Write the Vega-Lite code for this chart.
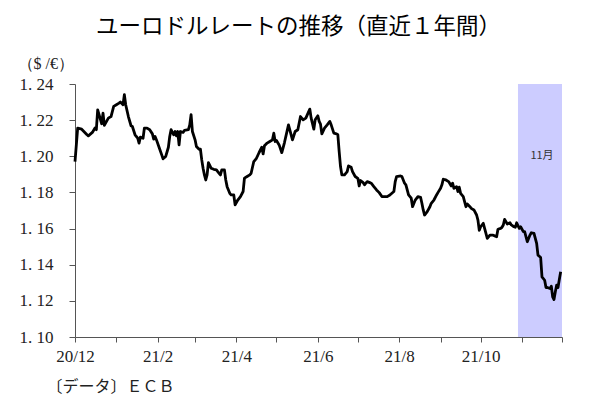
{
  "$schema": "https://vega.github.io/schema/vega-lite/v6.json",
  "width": 487,
  "height": 253,
  "autosize": {"type": "none"},
  "padding": {"left": 75, "top": 84, "right": 38, "bottom": 65},
  "background": "white",
  "title": {"text": "ユーロドルレートの推移（直近１年間）", "font": "Noto Sans CJK JP", "fontSize": 22.5, "fontWeight": "normal", "color": "#000", "anchor": "middle", "frame": "group", "dx": -20, "offset": 17},
  "config": {
    "view": {"stroke": null},
    "axis": {
      "labelFont": "Liberation Serif", "labelFontSize": 17, "labelColor": "#222",
      "labelOverlap": false, "labelFlush": false, "grid": false,
      "domainColor": "#555", "tickColor": "#555"
    },
    "axisX": {"tickSize": 5, "labelPadding": 6},
    "axisY": {"tickSize": 6, "labelPadding": 16, "labelOverlap": false}
  },
  "datasets": {
    "band": [{"start": "2021-10-29", "end": "2021-12-01", "label": "11月"}],
    "rate": [
      {"d": "2020-12-01", "v": 1.1971}, {"d": "2020-12-03", "v": 1.2156}, {"d": "2020-12-06", "v": 1.2150}, {"d": "2020-12-10", "v": 1.2119},
      {"d": "2020-12-11", "v": 1.2113}, {"d": "2020-12-14", "v": 1.2132}, {"d": "2020-12-16", "v": 1.2156}, {"d": "2020-12-17", "v": 1.2147},
      {"d": "2020-12-18", "v": 1.2257}, {"d": "2020-12-21", "v": 1.2180}, {"d": "2020-12-22", "v": 1.2239}, {"d": "2020-12-23", "v": 1.2171},
      {"d": "2020-12-26", "v": 1.2211}, {"d": "2020-12-28", "v": 1.2220}, {"d": "2020-12-30", "v": 1.2276}, {"d": "2021-01-01", "v": 1.2285},
      {"d": "2021-01-03", "v": 1.2294}, {"d": "2021-01-04", "v": 1.2300}, {"d": "2021-01-06", "v": 1.2285}, {"d": "2021-01-07", "v": 1.2341},
      {"d": "2021-01-08", "v": 1.2285}, {"d": "2021-01-10", "v": 1.2220}, {"d": "2021-01-12", "v": 1.2169}, {"d": "2021-01-13", "v": 1.2165},
      {"d": "2021-01-15", "v": 1.2119}, {"d": "2021-01-17", "v": 1.2100}, {"d": "2021-01-18", "v": 1.2073}, {"d": "2021-01-19", "v": 1.2106},
      {"d": "2021-01-21", "v": 1.2100}, {"d": "2021-01-22", "v": 1.2156}, {"d": "2021-01-24", "v": 1.2156}, {"d": "2021-01-26", "v": 1.2147},
      {"d": "2021-01-28", "v": 1.2124}, {"d": "2021-01-29", "v": 1.2095}, {"d": "2021-01-30", "v": 1.2110}, {"d": "2021-01-31", "v": 1.2092},
      {"d": "2021-02-02", "v": 1.2050}, {"d": "2021-02-04", "v": 1.2008}, {"d": "2021-02-05", "v": 1.1986}, {"d": "2021-02-07", "v": 1.1999},
      {"d": "2021-02-09", "v": 1.2050}, {"d": "2021-02-10", "v": 1.2110}, {"d": "2021-02-11", "v": 1.2147}, {"d": "2021-02-13", "v": 1.2119},
      {"d": "2021-02-14", "v": 1.2137}, {"d": "2021-02-15", "v": 1.2113}, {"d": "2021-02-16", "v": 1.2137}, {"d": "2021-02-17", "v": 1.2063},
      {"d": "2021-02-18", "v": 1.2137}, {"d": "2021-02-20", "v": 1.2132}, {"d": "2021-02-21", "v": 1.2143}, {"d": "2021-02-24", "v": 1.2147},
      {"d": "2021-02-25", "v": 1.2174}, {"d": "2021-02-26", "v": 1.2230}, {"d": "2021-02-27", "v": 1.2137}, {"d": "2021-03-01", "v": 1.2091},
      {"d": "2021-03-02", "v": 1.2054}, {"d": "2021-03-04", "v": 1.2039}, {"d": "2021-03-05", "v": 1.2039}, {"d": "2021-03-06", "v": 1.1980},
      {"d": "2021-03-07", "v": 1.1934}, {"d": "2021-03-08", "v": 1.1897}, {"d": "2021-03-09", "v": 1.1869}, {"d": "2021-03-10", "v": 1.1897},
      {"d": "2021-03-11", "v": 1.1965}, {"d": "2021-03-13", "v": 1.1934}, {"d": "2021-03-15", "v": 1.1928}, {"d": "2021-03-17", "v": 1.1925},
      {"d": "2021-03-18", "v": 1.1915}, {"d": "2021-03-19", "v": 1.1906}, {"d": "2021-03-20", "v": 1.1897}, {"d": "2021-03-21", "v": 1.1925},
      {"d": "2021-03-23", "v": 1.1925}, {"d": "2021-03-24", "v": 1.1869}, {"d": "2021-03-25", "v": 1.1832}, {"d": "2021-03-27", "v": 1.1795},
      {"d": "2021-03-28", "v": 1.1786}, {"d": "2021-03-30", "v": 1.1786}, {"d": "2021-03-31", "v": 1.1731}, {"d": "2021-04-02", "v": 1.1758},
      {"d": "2021-04-04", "v": 1.1777}, {"d": "2021-04-06", "v": 1.1805}, {"d": "2021-04-07", "v": 1.1879}, {"d": "2021-04-09", "v": 1.1888},
      {"d": "2021-04-11", "v": 1.1897}, {"d": "2021-04-12", "v": 1.1906}, {"d": "2021-04-14", "v": 1.1971}, {"d": "2021-04-16", "v": 1.1989},
      {"d": "2021-04-18", "v": 1.2021}, {"d": "2021-04-20", "v": 1.2050}, {"d": "2021-04-21", "v": 1.2013}, {"d": "2021-04-22", "v": 1.2058},
      {"d": "2021-04-24", "v": 1.2073}, {"d": "2021-04-26", "v": 1.2082}, {"d": "2021-04-28", "v": 1.2091}, {"d": "2021-04-29", "v": 1.2128},
      {"d": "2021-04-30", "v": 1.2082}, {"d": "2021-05-01", "v": 1.2087}, {"d": "2021-05-03", "v": 1.2063}, {"d": "2021-05-05", "v": 1.2020},
      {"d": "2021-05-07", "v": 1.2076}, {"d": "2021-05-10", "v": 1.2174}, {"d": "2021-05-13", "v": 1.2091}, {"d": "2021-05-15", "v": 1.2137},
      {"d": "2021-05-17", "v": 1.2147}, {"d": "2021-05-19", "v": 1.2220}, {"d": "2021-05-21", "v": 1.2202}, {"d": "2021-05-23", "v": 1.2211},
      {"d": "2021-05-26", "v": 1.2261}, {"d": "2021-05-27", "v": 1.2211}, {"d": "2021-05-29", "v": 1.2150}, {"d": "2021-05-30", "v": 1.2202},
      {"d": "2021-06-01", "v": 1.2224}, {"d": "2021-06-02", "v": 1.2193}, {"d": "2021-06-03", "v": 1.2178}, {"d": "2021-06-04", "v": 1.2124},
      {"d": "2021-06-06", "v": 1.2156}, {"d": "2021-06-08", "v": 1.2174}, {"d": "2021-06-10", "v": 1.2193}, {"d": "2021-06-11", "v": 1.2174},
      {"d": "2021-06-13", "v": 1.2128}, {"d": "2021-06-15", "v": 1.2124}, {"d": "2021-06-16", "v": 1.2119}, {"d": "2021-06-17", "v": 1.2026},
      {"d": "2021-06-18", "v": 1.1943}, {"d": "2021-06-19", "v": 1.1897}, {"d": "2021-06-21", "v": 1.1897}, {"d": "2021-06-23", "v": 1.1915},
      {"d": "2021-06-24", "v": 1.1947}, {"d": "2021-06-26", "v": 1.1939}, {"d": "2021-06-27", "v": 1.1915}, {"d": "2021-06-29", "v": 1.1888},
      {"d": "2021-07-01", "v": 1.1878}, {"d": "2021-07-02", "v": 1.1836}, {"d": "2021-07-03", "v": 1.1866}, {"d": "2021-07-05", "v": 1.1854},
      {"d": "2021-07-06", "v": 1.1842}, {"d": "2021-07-07", "v": 1.1851}, {"d": "2021-07-08", "v": 1.1860}, {"d": "2021-07-10", "v": 1.1854},
      {"d": "2021-07-11", "v": 1.1851}, {"d": "2021-07-13", "v": 1.1832}, {"d": "2021-07-15", "v": 1.1814}, {"d": "2021-07-17", "v": 1.1799},
      {"d": "2021-07-19", "v": 1.1777}, {"d": "2021-07-21", "v": 1.1777}, {"d": "2021-07-23", "v": 1.1777}, {"d": "2021-07-25", "v": 1.1786},
      {"d": "2021-07-28", "v": 1.1805}, {"d": "2021-07-29", "v": 1.1860}, {"d": "2021-07-30", "v": 1.1888}, {"d": "2021-08-02", "v": 1.1891},
      {"d": "2021-08-03", "v": 1.1888}, {"d": "2021-08-05", "v": 1.1851}, {"d": "2021-08-06", "v": 1.1842}, {"d": "2021-08-08", "v": 1.1786},
      {"d": "2021-08-10", "v": 1.1768}, {"d": "2021-08-11", "v": 1.1721}, {"d": "2021-08-13", "v": 1.1758}, {"d": "2021-08-15", "v": 1.1777},
      {"d": "2021-08-17", "v": 1.1773}, {"d": "2021-08-18", "v": 1.1740}, {"d": "2021-08-19", "v": 1.1703}, {"d": "2021-08-20", "v": 1.1675},
      {"d": "2021-08-22", "v": 1.1694}, {"d": "2021-08-24", "v": 1.1721}, {"d": "2021-08-25", "v": 1.1740}, {"d": "2021-08-27", "v": 1.1758},
      {"d": "2021-08-29", "v": 1.1786}, {"d": "2021-08-30", "v": 1.1799}, {"d": "2021-09-01", "v": 1.1823}, {"d": "2021-09-02", "v": 1.1842},
      {"d": "2021-09-03", "v": 1.1873}, {"d": "2021-09-05", "v": 1.1869}, {"d": "2021-09-07", "v": 1.1860}, {"d": "2021-09-09", "v": 1.1836},
      {"d": "2021-09-10", "v": 1.1851}, {"d": "2021-09-11", "v": 1.1823}, {"d": "2021-09-13", "v": 1.1832}, {"d": "2021-09-14", "v": 1.1805},
      {"d": "2021-09-15", "v": 1.1829}, {"d": "2021-09-16", "v": 1.1795}, {"d": "2021-09-18", "v": 1.1777}, {"d": "2021-09-19", "v": 1.1749},
      {"d": "2021-09-20", "v": 1.1721}, {"d": "2021-09-21", "v": 1.1736}, {"d": "2021-09-23", "v": 1.1721}, {"d": "2021-09-24", "v": 1.1712},
      {"d": "2021-09-26", "v": 1.1703}, {"d": "2021-09-28", "v": 1.1675}, {"d": "2021-09-29", "v": 1.1647}, {"d": "2021-09-30", "v": 1.1590},
      {"d": "2021-10-01", "v": 1.1610}, {"d": "2021-10-03", "v": 1.1629}, {"d": "2021-10-04", "v": 1.1601}, {"d": "2021-10-06", "v": 1.1546},
      {"d": "2021-10-08", "v": 1.1564}, {"d": "2021-10-10", "v": 1.1564}, {"d": "2021-10-12", "v": 1.1558}, {"d": "2021-10-13", "v": 1.1555},
      {"d": "2021-10-14", "v": 1.1596}, {"d": "2021-10-16", "v": 1.1601}, {"d": "2021-10-17", "v": 1.1607}, {"d": "2021-10-18", "v": 1.1620},
      {"d": "2021-10-19", "v": 1.1651}, {"d": "2021-10-21", "v": 1.1625}, {"d": "2021-10-23", "v": 1.1632}, {"d": "2021-10-24", "v": 1.1620},
      {"d": "2021-10-26", "v": 1.1610}, {"d": "2021-10-27", "v": 1.1607}, {"d": "2021-10-28", "v": 1.1632}, {"d": "2021-10-30", "v": 1.1601},
      {"d": "2021-10-31", "v": 1.1610}, {"d": "2021-11-02", "v": 1.1583}, {"d": "2021-11-03", "v": 1.1583}, {"d": "2021-11-05", "v": 1.1527},
      {"d": "2021-11-07", "v": 1.1564}, {"d": "2021-11-08", "v": 1.1577}, {"d": "2021-11-10", "v": 1.1573}, {"d": "2021-11-12", "v": 1.1518},
      {"d": "2021-11-13", "v": 1.1453}, {"d": "2021-11-14", "v": 1.1447}, {"d": "2021-11-15", "v": 1.1440}, {"d": "2021-11-16", "v": 1.1333},
      {"d": "2021-11-18", "v": 1.1314}, {"d": "2021-11-19", "v": 1.1274}, {"d": "2021-11-20", "v": 1.1274}, {"d": "2021-11-22", "v": 1.1268},
      {"d": "2021-11-23", "v": 1.1281}, {"d": "2021-11-24", "v": 1.1222}, {"d": "2021-11-25", "v": 1.1207}, {"d": "2021-11-26", "v": 1.1250},
      {"d": "2021-11-27", "v": 1.1287}, {"d": "2021-11-28", "v": 1.1274}, {"d": "2021-11-29", "v": 1.1318}, {"d": "2021-11-30", "v": 1.1361}
    ]
  },
  "layer": [
    {
      "data": {"name": "band"},
      "mark": {"type": "rect", "color": "#CCCCFF"},
      "encoding": {
        "x": {
          "field": "start", "type": "temporal",
          "scale": {"type": "utc", "domain": [{"year": 2020, "month": 12, "date": 1, "utc": true}, {"year": 2021, "month": 12, "date": 1, "utc": true}]},
          "axis": {
            "values": [
              {"year": 2020, "month": 12, "date": 1, "utc": true}, {"year": 2021, "month": 1, "date": 1, "utc": true},
              {"year": 2021, "month": 2, "date": 1, "utc": true}, {"year": 2021, "month": 3, "date": 1, "utc": true},
              {"year": 2021, "month": 4, "date": 1, "utc": true}, {"year": 2021, "month": 5, "date": 1, "utc": true},
              {"year": 2021, "month": 6, "date": 1, "utc": true}, {"year": 2021, "month": 7, "date": 1, "utc": true},
              {"year": 2021, "month": 8, "date": 1, "utc": true}, {"year": 2021, "month": 9, "date": 1, "utc": true},
              {"year": 2021, "month": 10, "date": 1, "utc": true}, {"year": 2021, "month": 11, "date": 1, "utc": true},
              {"year": 2021, "month": 12, "date": 1, "utc": true}
            ],
            "labelExpr": "(utcmonth(datum.value) % 2 == 1 && utcyear(datum.value) * 12 + utcmonth(datum.value) < 2021 * 12 + 11) ? utcFormat(datum.value, '%y/%-m') : ''",
            "title": "〔データ〕ＥＣＢ",
            "titleFont": "Noto Sans CJK JP", "titleFontSize": 16, "titleFontWeight": "normal", "titleColor": "#222",
            "titleAnchor": "start", "titleAlign": "left", "titleBaseline": "middle",
            "titleX": -29, "titleY": 49
          }
        },
        "x2": {"field": "end"}
      }
    },
    {
      "data": {"name": "rate"},
      "mark": {"type": "line", "color": "#000", "strokeWidth": 2.8, "strokeJoin": "round"},
      "encoding": {
        "x": {"field": "d", "type": "temporal"},
        "y": {
          "field": "v", "type": "quantitative",
          "scale": {"domain": [1.1, 1.24], "nice": false, "zero": false},
          "axis": {
            "values": [1.1, 1.12, 1.14, 1.16, 1.18, 1.2, 1.22, 1.24],
            "labelExpr": "replace(format(datum.value, '.2f'), '.', '. ')",
            "labelOverlap": false,
            "title": "（$ /€）",
            "titleFont": "Liberation Serif", "titleFontSize": 16, "titleFontWeight": "normal", "titleColor": "#222",
            "titleAngle": 0, "titleAlign": "left", "titleBaseline": "middle",
            "titleX": -58, "titleY": -21
          }
        }
      }
    },
    {
      "data": {"name": "band"},
      "mark": {"type": "text", "font": "Noto Sans CJK JP", "fontSize": 11, "color": "#333"},
      "encoding": {
        "x": {"datum": {"year": 2021, "month": 11, "date": 16, "utc": true}, "type": "temporal"},
        "y": {
          "datum": 1.2, "type": "quantitative",
          "axis": {
            "values": [1.1, 1.12, 1.14, 1.16, 1.18, 1.2, 1.22, 1.24],
            "labelExpr": "replace(format(datum.value, '.2f'), '.', '. ')",
            "labelOverlap": false,
            "title": "（$ /€）",
            "titleFont": "Liberation Serif", "titleFontSize": 16, "titleFontWeight": "normal", "titleColor": "#222",
            "titleAngle": 0, "titleAlign": "left", "titleBaseline": "middle",
            "titleX": -58, "titleY": -21
          }
        },
        "text": {"field": "label"}
      }
    }
  ]
}
